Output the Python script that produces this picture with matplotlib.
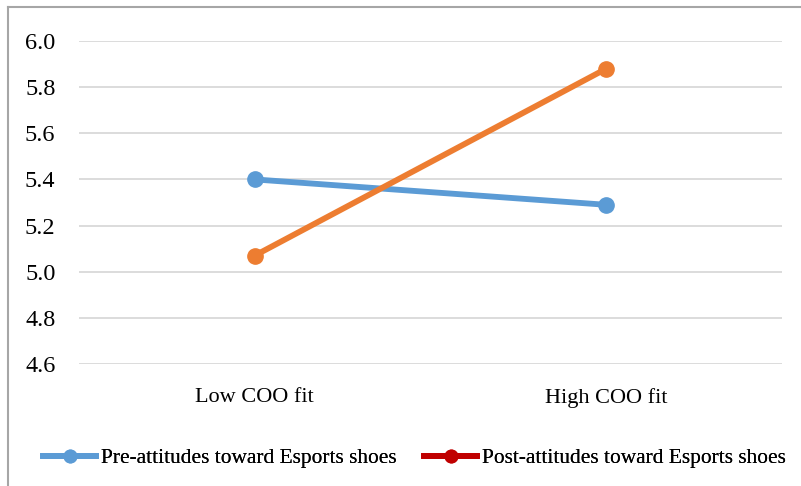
import matplotlib
matplotlib.use('Agg')
import matplotlib.pyplot as plt
from matplotlib.lines import Line2D

categories = ['Low COO fit', 'High COO fit']
pre_attitudes = [5.40, 5.29]
post_attitudes = [5.07, 5.88]
y_ticks = [4.6, 4.8, 5.0, 5.2, 5.4, 5.6, 5.8, 6.0]
series_labels = ['Pre-attitudes toward Esports shoes', 'Post-attitudes toward Esports shoes']

plt.rcParams['font.family'] = ['Liberation Serif', 'DejaVu Serif']

fig = plt.figure(figsize=(8.01, 4.86), dpi=100)
ax = fig.add_axes([79 / 801, 1 - 364 / 486, (782 - 79) / 801, (364 - 41) / 486])

x = range(len(categories))
ax.plot(x, pre_attitudes, color='#5B9BD5', linewidth=4.2, marker='o', markersize=11,
        solid_capstyle='round', clip_on=False)
ax.plot(x, post_attitudes, color='#ED7D31', linewidth=4.2, marker='o', markersize=11,
        solid_capstyle='round', clip_on=False)

ax.set_xlim(-0.5, 1.5)
ax.set_ylim(4.6, 6.0)
ax.set_xticks(list(x))
ax.set_xticklabels(categories)
ax.set_yticks(y_ticks)
ax.set_yticklabels([f'{v:.1f}' for v in y_ticks])
ax.tick_params(axis='both', length=0, colors='black')
ax.tick_params(axis='y', pad=17, labelsize=17.5)
ax.tick_params(axis='x', pad=17, labelsize=16)
ax.grid(axis='y', color='#d9d9d9', linewidth=1.3)
ax.set_axisbelow(True)
for s in ax.spines.values():
    s.set_visible(False)

# legend: two entries placed separately (second handle is dark red in the original)
leg_colors = ['#5B9BD5', '#C00000']
leg_x = [43 / 801, 424 / 801]
for lab, col, lx in zip(series_labels, leg_colors, leg_x):
    h = Line2D([], [], color=col, linewidth=4.2, marker='o', markersize=9)
    leg = fig.legend([h], [lab], loc='center left', bbox_to_anchor=(lx, 1 - 458 / 486),
                     frameon=False, fontsize=15.4, handlelength=2.5, handletextpad=0.2,
                     borderpad=0, borderaxespad=0)
    fig.add_artist(leg)

# border lines of the original cropped frame
fig.add_artist(Line2D([8 / 801, 8 / 801], [0, 1 - 7 / 486], color='#a6a6a6', linewidth=1.5,
                      transform=fig.transFigure))
fig.add_artist(Line2D([8 / 801, 1], [1 - 7 / 486, 1 - 7 / 486], color='#a6a6a6',
                      linewidth=1.5, transform=fig.transFigure))

fig.savefig('out.png', dpi=100)
plt.close(fig)
